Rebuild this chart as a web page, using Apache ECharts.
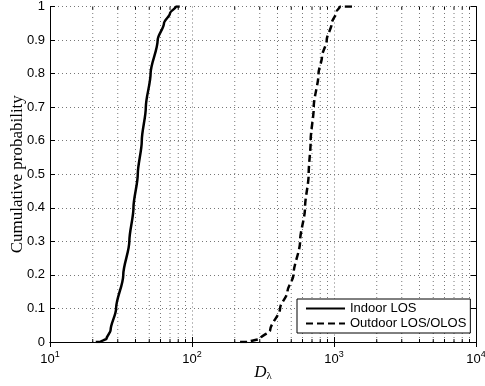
<!DOCTYPE html>
<html>
<head>
<meta charset="utf-8">
<script src="https://cdn.jsdelivr.net/npm/echarts@6/dist/echarts.min.js"></script>
<style>
html, body { margin: 0; padding: 0; background: #fff; }
#chart { width: 485px; height: 386px; }
</style>
</head>
<body>
<div id="chart"></div>
<script>
// CDF 数据
var indoorX = [21, 22.5, 25, 26.7, 29.2, 32.8, 36.2, 38.7, 41.5, 44.3, 47.3, 51.1, 57.3, 63.5, 70, 77, 82];
var indoorY = [0, 0, 0.01, 0.035, 0.1, 0.2, 0.3, 0.4, 0.5, 0.6, 0.7, 0.8, 0.9, 0.95, 0.98, 1, 1];
var outdoorX = [218, 249, 302, 355, 417, 470, 518, 577, 625, 663, 685, 720, 778, 823, 889, 964, 1045, 1101, 1360];
var outdoorY = [0, 0, 0.01, 0.035, 0.1, 0.15, 0.2, 0.3, 0.4, 0.5, 0.6, 0.7, 0.8, 0.85, 0.9, 0.95, 0.985, 1, 1];
var seriesNames = ['Indoor LOS', 'Outdoor LOS/OLOS'];
// 对数轴次刻度
var minorX = [20, 30, 40, 50, 60, 70, 80, 90, 200, 300, 400, 500, 600, 700, 800, 900,
              2000, 3000, 4000, 5000, 6000, 7000, 8000, 9000];

function pairs(xs, ys) {
    var out = [];
    for (var i = 0; i < xs.length; i++) {
        out.push([xs[i], ys[i]]);
    }
    return out;
}

var gridDot = { color: '#777', width: 1, type: [1, 3] };
var sans = 'Liberation Sans';
var serif = 'Liberation Serif';

var myChart = echarts.init(document.getElementById('chart'));
var option = {
    animation: false,
    backgroundColor: '#fff',
    grid: { left: 50, right: 9, top: 6.5, bottom: 44, containLabel: false, outerBoundsMode: 'none' },
    legend: {
        data: seriesNames,
        orient: 'vertical',
        left: 297,
        top: 299,
        padding: [3, 4, 3, 8],
        itemGap: 2,
        itemWidth: 39,
        itemHeight: 12,
        borderColor: '#000',
        borderWidth: 1,
        backgroundColor: '#fff',
        itemStyle: { opacity: 0 },
        textStyle: { fontFamily: sans, fontSize: 13, color: '#000' }
    },
    xAxis: [{
        type: 'log',
        logBase: 10,
        min: 10,
        max: 10000,
        name: '{d|D}{s|λ}',
        nameLocation: 'middle',
        nameGap: 21,
        nameMoveOverlap: false,
        nameTextStyle: {
            rich: {
                d: { fontFamily: serif, fontStyle: 'italic', fontSize: 17, color: '#000' },
                s: { fontFamily: serif, fontSize: 11, color: '#000', padding: [8, 0, 0, 0] }
            }
        },
        axisLine: { show: true, lineStyle: { color: '#000', width: 1 } },
        axisTick: { show: true, inside: true, length: 5, lineStyle: { color: '#000' } },
        axisLabel: {
            margin: 8,
            formatter: function (v) {
                return '10{sup|' + Math.round(Math.log10(v)) + '}';
            },
            rich: {
                sup: { fontFamily: sans, fontSize: 9, color: '#000', padding: [0, 0, 9, 0] }
            },
            fontFamily: sans,
            fontSize: 13,
            color: '#000'
        },
        splitLine: { show: true, lineStyle: gridDot }
    }, {
        type: 'log',
        logBase: 10,
        min: 10,
        max: 10000,
        position: 'top',
        axisLine: { show: true, lineStyle: { color: '#000', width: 1 } },
        axisTick: { show: true, inside: true, length: 5, lineStyle: { color: '#000' } },
        axisLabel: { show: false },
        splitLine: { show: false }
    }],
    yAxis: [{
        type: 'value',
        min: 0,
        max: 1,
        interval: 0.1,
        name: 'Cumulative probability',
        nameLocation: 'middle',
        nameGap: 24,
        nameMoveOverlap: false,
        nameTextStyle: { fontFamily: serif, fontSize: 17, color: '#000' },
        axisLine: { show: true, lineStyle: { color: '#000', width: 1 } },
        axisTick: { show: true, inside: true, length: 5, lineStyle: { color: '#000' } },
        axisLabel: { fontFamily: sans, fontSize: 13, color: '#000', margin: 5 },
        splitLine: { show: true, lineStyle: gridDot }
    }, {
        type: 'value',
        min: 0,
        max: 1,
        interval: 0.1,
        position: 'right',
        axisLine: { show: true, lineStyle: { color: '#000', width: 1 } },
        axisTick: { show: true, inside: true, length: 5, lineStyle: { color: '#000' } },
        axisLabel: { show: false },
        splitLine: { show: false }
    }],
    series: [{
        // 次网格线 + 次刻度
        type: 'custom',
        name: 'minor',
        silent: true,
        z: 1,
        data: minorX.map(function (v) { return [v, 0]; }),
        encode: { x: 0, y: 1 },
        renderItem: function (params, api) {
            var v = api.value(0);
            var p0 = api.coord([v, 0]);
            var p1 = api.coord([v, 1]);
            return {
                type: 'group',
                children: [{
                    type: 'line',
                    shape: { x1: p0[0], y1: p0[1], x2: p1[0], y2: p1[1] },
                    style: { stroke: '#777', lineWidth: 1, lineDash: [1, 3] }
                }, {
                    type: 'line',
                    shape: { x1: p0[0], y1: p0[1], x2: p0[0], y2: p0[1] - 3 },
                    style: { stroke: '#000', lineWidth: 1 }
                }, {
                    type: 'line',
                    shape: { x1: p1[0], y1: p1[1], x2: p1[0], y2: p1[1] + 3 },
                    style: { stroke: '#000', lineWidth: 1 }
                }]
            };
        }
    }, {
        name: seriesNames[0],
        type: 'line',
        data: pairs(indoorX, indoorY),
        showSymbol: false,
        symbol: 'none',
        smooth: 0.3,
        smoothMonotone: 'y',
        z: 5,
        lineStyle: { color: '#000', width: 2.5, type: 'solid' },
        itemStyle: { color: '#000' }
    }, {
        name: seriesNames[1],
        type: 'line',
        data: pairs(outdoorX, outdoorY),
        showSymbol: false,
        symbol: 'none',
        smooth: 0.3,
        smoothMonotone: 'y',
        z: 5,
        lineStyle: { color: '#000', width: 2.5, type: [7, 4] },
        itemStyle: { color: '#000' }
    }]
};
myChart.setOption(option);
</script>
</body>
</html>
